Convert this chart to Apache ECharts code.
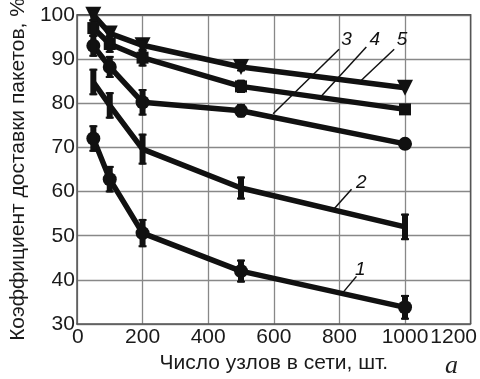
<!DOCTYPE html>
<html><head><meta charset="utf-8">
<script src="https://cdn.jsdelivr.net/npm/echarts@6/dist/echarts.min.js"></script>
<style>html,body{margin:0;padding:0;background:#fff}#c{width:480px;height:379px}</style>
</head><body><div id="c"></div>
<script>
var nodes = [50, 100, 200, 500, 1000];
var s1 = [72, 62.8, 50.6, 42, 33.8];
var s2 = [84.8, 79.5, 69.6, 60.8, 52];
var s3 = [93, 88.2, 80.2, 78.3, 70.8];
var s4 = [97, 93.4, 90.3, 83.8, 78.6];
var s5 = [100, 95.8, 93.1, 88.2, 83.5];
var e1 = [3, 3, 3.2, 2.6, 2.8];
var e2 = [3, 3, 3.5, 2.6, 3];
var e3 = [2.5, 2.5, 3, 1.5, 1.2];
var e4 = [2, 2, 2, 1.5, 1.2];
var e5 = [1.5, 1.5, 1.5, 1, 0];
var xTicks = [0, 200, 400, 600, 800, 1000, 1200];
var yTicks = [30, 40, 50, 60, 70, 80, 90, 100];
// curve annotations: label text, label position, leader line start/end (data units)
var annLabels = ['1', '2', '3', '4', '5'];
var annText = [[864, 42.3], [867, 62], [822, 94.4], [908, 94.4], [991, 94.4]];
var annFrom = [[852, 40.8], [837, 60.5], [799, 92.2], [882, 92.7], [967, 92.2]];
var annTo = [[808, 36.9], [784, 56.1], [598, 77.6], [746, 81.7], [867, 85.2]];

var FONT = "'Liberation Sans', Arial, sans-serif";
var series = [s1, s2, s3, s4, s5];
var errs = [e1, e2, e3, e4, e5];
var symbols = ['circle', 'none', 'circle', 'rect', 'triangle'];
var sizes = [14, 0, 14, 12, 16];

function pairs(ys) { return nodes.map(function (x, i) { return [x, ys[i]]; }); }

var opt = {
  animation: false,
  grid: { left: 70, right: 5, top: 14, bottom: 45 },
  xAxis: {
    type: 'value', min: 0, max: 1200, interval: 200,
    name: 'Число узлов в сети, шт.', nameLocation: 'middle', nameGap: 20,
    nameTextStyle: { fontFamily: FONT, fontSize: 21, color: '#1a1a1a' },
    axisLine: { show: true, lineStyle: { color: '#555', width: 1.5 } },
    axisTick: { show: false },
    axisLabel: {
      fontFamily: FONT, fontSize: 21, color: '#1a1a1a', margin: 3,
      showMaxLabel: true,
      formatter: function (v) { return v === 0 ? '{z|0}' : (v === 1200 ? '{m|1200}' : String(v)); },
      rich: { z: { fontFamily: FONT, fontSize: 21, color: '#1a1a1a', padding: [0, 0, 0, 2] },
              m: { fontFamily: FONT, fontSize: 21, color: '#1a1a1a', padding: [0, 34, 0, 0] } }
    },
    splitLine: { show: true, lineStyle: { color: '#888', width: 1.3 } }
  },
  yAxis: {
    type: 'value', min: 30, max: 100, interval: 10,
    name: 'Коэффициент доставки пакетов, %', nameLocation: 'middle', nameGap: 46,
    nameTextStyle: { fontFamily: FONT, fontSize: 21, color: '#1a1a1a' },
    axisLine: { show: true, lineStyle: { color: '#555', width: 1.5 } },
    axisTick: { show: false },
    axisLabel: { fontFamily: FONT, fontSize: 21, color: '#1a1a1a', margin: 2,
      formatter: function (v) { return yTicks.indexOf(v) >= 0 ? String(v) : ''; } },
    splitLine: { show: true, lineStyle: { color: '#888', width: 1.3 } }
  },
  graphic: [{ type: 'text', right: 22, bottom: 0,
    style: { text: 'a', font: 'italic 26px "Liberation Serif", serif', fill: '#222' } }],
  series: []
};
// top/right frame
opt.series.push({ type: 'custom', silent: true, z: 1, data: [[0]],
  renderItem: function (p, api) {
    var a = api.coord([0, 100]), b = api.coord([1200, 100]), c = api.coord([1200, 30]);
    return { type: 'polyline', shape: { points: [a, b, c] }, style: { stroke: '#555', lineWidth: 1.5, fill: null } };
  } });

series.forEach(function (ys, k) {
  opt.series.push({
    type: 'line', data: pairs(ys), symbol: symbols[k], symbolSize: sizes[k],
    symbolRotate: k === 4 ? 180 : 0, showSymbol: symbols[k] !== 'none',
    lineStyle: { color: '#111', width: 5.5 }, itemStyle: { color: '#111' }, z: 3, clip: false
  });
  var ed = nodes.map(function (x, i) { return [x, ys[i], errs[k][i]]; });
  opt.series.push({
    type: 'custom', data: ed, z: 4, clip: false,
    renderItem: function (p, api) {
      var x = api.value(0), y = api.value(1), e = api.value(2);
      if (!e) return null;
      var top = api.coord([x, y + e]), bot = api.coord([x, y - e]);
      return { type: 'group', children: [
        { type: 'line', shape: { x1: top[0], y1: top[1], x2: bot[0], y2: bot[1] }, style: { stroke: '#111', lineWidth: 6 } },
        { type: 'line', shape: { x1: top[0] - 4, y1: top[1] + 1, x2: top[0] + 4, y2: top[1] + 1 }, style: { stroke: '#111', lineWidth: 2 } },
        { type: 'line', shape: { x1: bot[0] - 4, y1: bot[1] - 1, x2: bot[0] + 4, y2: bot[1] - 1 }, style: { stroke: '#111', lineWidth: 2 } }
      ] };
    }
  });
});

opt.series.push({
  type: 'custom', z: 5, clip: false,
  data: annLabels.map(function (t, i) { return [i]; }),
  renderItem: function (p, api) {
    var i = api.value(0);
    var a = api.coord(annFrom[i]), b = api.coord(annTo[i]), t = api.coord(annText[i]);
    return { type: 'group', children: [
      { type: 'line', shape: { x1: a[0], y1: a[1], x2: b[0], y2: b[1] }, style: { stroke: '#111', lineWidth: 1.5 } },
      { type: 'text', x: t[0], y: t[1], style: { text: annLabels[i], font: 'italic 19px ' + FONT, fill: '#111', align: 'center', verticalAlign: 'middle' } }
    ] };
  }
});

var chart = echarts.init(document.getElementById('c'), null, { renderer: 'canvas' });
chart.setOption(opt);
</script></body></html>
